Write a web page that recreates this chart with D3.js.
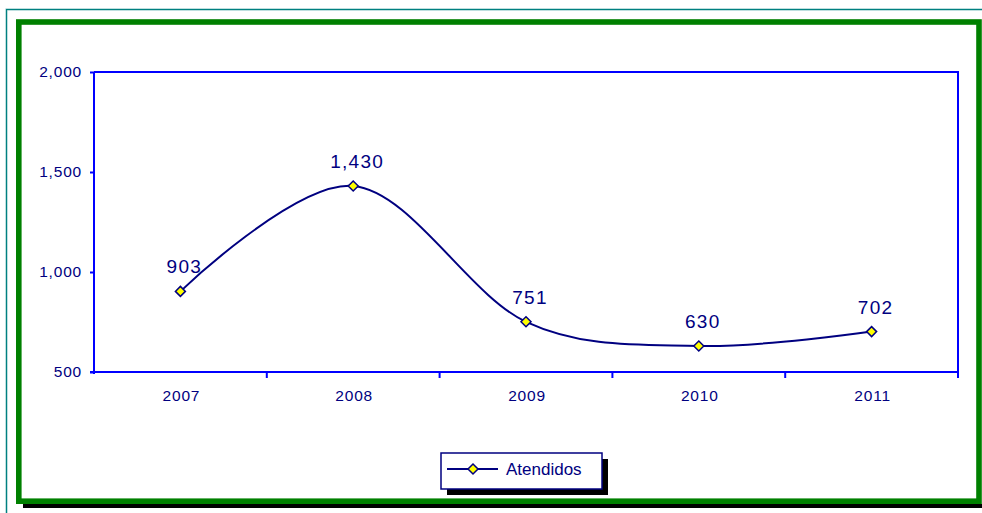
<!DOCTYPE html>
<html><head><meta charset="utf-8">
<script src="https://cdn.jsdelivr.net/npm/d3@7"></script>
<style>
html,body{margin:0;padding:0;background:#fff;}
svg{display:block;}
text{font-family:Arial,"Liberation Sans",sans-serif;fill:#000080;}
</style></head>
<body><svg id="c" width="982" height="513"></svg>
<script>
const categories = ["2007","2008","2009","2010","2011"];
const atendidos = [903,1430,751,630,702];
const yTicks = [500,1000,1500,2000];
const seriesName = "Atendidos";

const svg = d3.select("#c");
const navy = "#000080", blue = "#0000FF";

// outer teal frame
svg.append("rect").attr("x",6.5).attr("y",9.5).attr("width",990).attr("height",520)
  .attr("fill","none").attr("stroke","#7fbfbf").attr("stroke-width",2);
svg.append("rect").attr("x",6.5).attr("y",9.5).attr("width",990).attr("height",520)
  .attr("fill","none").attr("stroke","#008080").attr("stroke-width",1);
// black shadow
svg.append("rect").attr("x",23).attr("y",504).attr("width",980).attr("height",4).attr("fill","#000");
// green frame
svg.append("rect").attr("x",18.8).attr("y",22).attr("width",960.2).attr("height",479.2)
  .attr("fill","#fff").attr("stroke","#008000").attr("stroke-width",5.6);

const plot = {l:94, r:958, t:72, b:372};
const x = d3.scaleBand().domain(categories).range([plot.l, plot.r]).paddingInner(0).paddingOuter(0);
const y = d3.scaleLinear().domain([500,2000]).range([plot.b, plot.t]);

// plot border (top & right)
svg.append("path")
  .attr("d",`M${plot.l},${plot.t}H${plot.r}V${plot.b}`)
  .attr("fill","none").attr("stroke",blue).attr("stroke-width",2);

// y axis
const yAxis = svg.append("g").attr("transform",`translate(${plot.l},0)`)
  .call(d3.axisLeft(y).tickValues(yTicks).tickSize(4).tickPadding(8).tickFormat(d3.format(",")));
yAxis.select(".domain").attr("stroke",blue).attr("stroke-width",2).attr("d",`M0,${plot.b+2}V${plot.t}`);
yAxis.selectAll(".tick line").attr("stroke",blue).attr("stroke-width",2);
yAxis.selectAll(".tick text").attr("fill",navy).style("font-size","15.5px").style("letter-spacing","0.8px")
  .style("font-family","Arial, 'Liberation Sans', sans-serif");

// x axis
const xAxis = svg.append("g").attr("transform",`translate(0,${plot.b})`);
xAxis.append("path").attr("d",`M${plot.l-4},0H${plot.r}`).attr("stroke",blue).attr("stroke-width",2);
const bounds = categories.map(c => x(c) + x.bandwidth());
xAxis.selectAll("line.xt").data(bounds).join("line").attr("class","xt")
  .attr("x1",d=>d).attr("x2",d=>d).attr("y1",0).attr("y2",6)
  .attr("stroke",blue).attr("stroke-width",2);
xAxis.selectAll("text.xl").data(categories).join("text").attr("class","xl")
  .attr("x",d=>x(d)+x.bandwidth()/2+1).attr("y",29)
  .attr("text-anchor","middle").style("font-size","15.5px").style("letter-spacing","0.8px")
  .text(d=>d);

// line
const pts = categories.map((c,i)=>({c, v:atendidos[i]}));
const line = d3.line().x(d=>x(d.c)+x.bandwidth()/2).y(d=>y(d.v)).curve(d3.curveCardinal.tension(0));
svg.append("path").datum(pts).attr("d",line).attr("fill","none")
  .attr("stroke",navy).attr("stroke-width",2).attr("stroke-linejoin","round");

const diamond = (cx,cy,r) => `M${cx},${cy-r}L${cx+r},${cy}L${cx},${cy+r}L${cx-r},${cy}Z`;
svg.selectAll("path.mk").data(pts).join("path").attr("class","mk")
  .attr("d",d=>diamond(x(d.c)+x.bandwidth()/2, y(d.v), 5))
  .attr("fill","#FFFF00").attr("stroke",navy).attr("stroke-width",1.5);

svg.selectAll("text.lbl").data(pts).join("text").attr("class","lbl")
  .attr("x",d=>x(d.c)+x.bandwidth()/2+4).attr("y",d=>y(d.v)-18)
  .attr("text-anchor","middle").style("font-size","19px").style("letter-spacing","1.3px")
  .text(d=>d3.format(",")(d.v));

// legend
const lg = {x:441, y:453, w:161, h:36};
svg.append("rect").attr("x",lg.x+6).attr("y",lg.y+6).attr("width",lg.w).attr("height",lg.h).attr("fill","#000");
svg.append("rect").attr("x",lg.x).attr("y",lg.y).attr("width",lg.w).attr("height",lg.h)
  .attr("fill","#fff").attr("stroke",navy).attr("stroke-width",1.5);
svg.append("line").attr("x1",447).attr("x2",498).attr("y1",469).attr("y2",469)
  .attr("stroke",navy).attr("stroke-width",2);
svg.append("path").attr("d",diamond(473,469,5)).attr("fill","#FFFF00").attr("stroke",navy).attr("stroke-width",1.5);
svg.append("text").attr("x",506).attr("y",475).style("font-size","17px").text(seriesName);
</script></body></html>
